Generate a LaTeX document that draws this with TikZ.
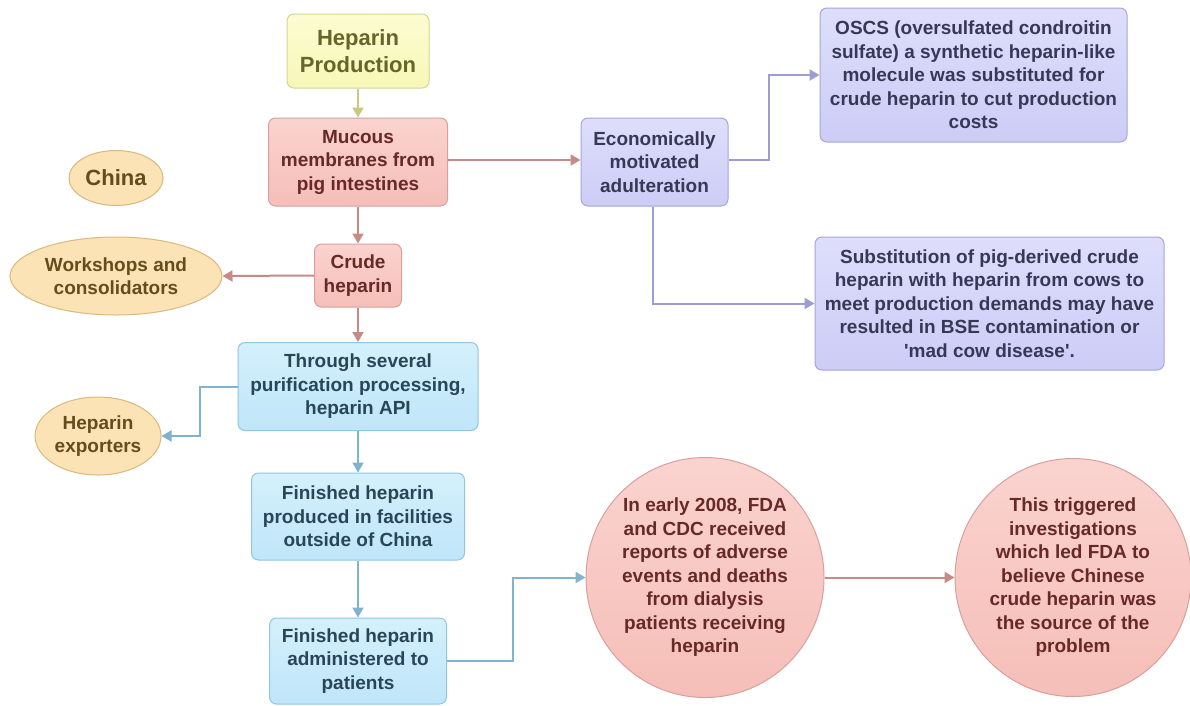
\documentclass[tikz,border=0pt]{standalone}
\usepackage{fontspec}
\setmainfont{Liberation Sans}
\usetikzlibrary{arrows.meta,shapes.geometric}
\definecolor{cYtop}{HTML}{FCFCD2}
\definecolor{cYbot}{HTML}{F7F7B8}
\definecolor{cYdraw}{HTML}{D6D696}
\definecolor{cYtext}{HTML}{66662A}
\definecolor{cYarr}{HTML}{C8C880}
\definecolor{cPtop}{HTML}{FAD3CF}
\definecolor{cPbot}{HTML}{F6BEB8}
\definecolor{cPdraw}{HTML}{D9A09B}
\definecolor{cPtext}{HTML}{662926}
\definecolor{cParr}{HTML}{C58C87}
\definecolor{cVtop}{HTML}{DEDEFB}
\definecolor{cVbot}{HTML}{CCCCF7}
\definecolor{cVdraw}{HTML}{A6A6DA}
\definecolor{cVtext}{HTML}{383856}
\definecolor{cVarr}{HTML}{9D9DD2}
\definecolor{cBtop}{HTML}{D4F0FC}
\definecolor{cBbot}{HTML}{BFE6F9}
\definecolor{cBdraw}{HTML}{90C6E2}
\definecolor{cBtext}{HTML}{294656}
\definecolor{cBarr}{HTML}{80B3D0}
\definecolor{cOfill}{HTML}{FBE3B6}
\definecolor{cOdraw}{HTML}{D9B97C}
\definecolor{cOtext}{HTML}{634D1C}
\begin{document}
\begin{tikzpicture}[x=1pt,y=-1pt,
  every node/.style={font=\bfseries\fontsize{19}{23.5}\selectfont, align=center, inner sep=0pt},
  rbox/.style={rectangle, rounded corners=7pt, line width=1pt},
  ybox/.style={rbox, top color=cYtop, bottom color=cYbot, draw=cYdraw, text=cYtext},
  pbox/.style={rbox, top color=cPtop, bottom color=cPbot, draw=cPdraw, text=cPtext},
  vbox/.style={rbox, top color=cVtop, bottom color=cVbot, draw=cVdraw, text=cVtext},
  bbox/.style={rbox, top color=cBtop, bottom color=cBbot, draw=cBdraw, text=cBtext},
  oell/.style={ellipse, fill=cOfill, draw=cOdraw, line width=1pt, text=cOtext},
  pcirc/.style={ellipse, top color=cPtop, bottom color=cPbot, draw=cPdraw, line width=1pt, text=cPtext, inner xsep=-20pt},
  arr/.style={line width=2pt, -{Triangle[length=10pt,width=11pt]}},
  yarr/.style={arr, draw=cYarr},
  parr/.style={arr, draw=cParr},
  varr/.style={arr, draw=cVarr},
  barr/.style={arr, draw=cBarr}
]
\useasboundingbox (0,0) rectangle (1190,705);
\fill[white] (0,0) rectangle (1190,705);

\node[ybox, minimum width=142pt, minimum height=74pt, font=\bfseries\fontsize{22}{27}\selectfont] (title) at (358,51) {Heparin\\Production};
\node[pbox, minimum width=179pt, minimum height=88pt] (mucous) at (358,162) {Mucous\\membranes from\\pig intestines};
\node[vbox, minimum width=147pt, minimum height=88pt] (econ) at (654.5,162) {Economically\\motivated\\adulteration};
\node[vbox, minimum width=307pt, minimum height=134pt] (oscs) at (973.5,75) {OSCS (oversulfated condroitin\\sulfate) a synthetic heparin-like\\molecule was substituted for\\crude heparin to cut production\\costs};
\node[vbox, minimum width=349pt, minimum height=133pt] (subst) at (989.5,303.5) {Substitution of pig-derived crude\\heparin with heparin from cows to\\meet production demands may have\\resulted in BSE contamination or\\\textquotesingle mad cow disease\textquotesingle.};
\node[oell, minimum width=94pt, minimum height=55pt, font=\bfseries\fontsize{22}{26}\selectfont] (china) at (116,178) {China};
\node[pbox, minimum width=87pt, minimum height=63pt] (crude) at (358,275.5) {Crude\\heparin};
\node[oell, minimum width=212pt, minimum height=78pt] (workshops) at (116,276) {Workshops and\\consolidators};
\node[bbox, minimum width=240pt, minimum height=88pt] (through) at (358,386.5) {Through several\\purification processing,\\heparin API};
\node[oell, minimum width=126pt, minimum height=78pt] (exporters) at (98,436) {Heparin\\exporters};
\node[bbox, minimum width=213pt, minimum height=87pt] (fin1) at (358,516.5) {Finished heparin\\produced in facilities\\outside of China};
\node[bbox, minimum width=177pt, minimum height=86pt] (fin2) at (358,661) {Finished heparin\\administered to\\patients};
\node[pcirc, minimum width=238pt, minimum height=240pt] (c1) at (705,577.5) {In early 2008, FDA\\and CDC received\\reports of adverse\\events and deaths\\from dialysis\\patients receiving\\heparin};
\node[pcirc, minimum width=236pt, minimum height=238pt] (c2) at (1073,577.5) {This triggered\\investigations\\which led FDA to\\believe Chinese\\crude heparin was\\the source of the\\problem};

\draw[yarr] (title.south) -- (mucous.north);
\draw[parr] (mucous.east) ++(0,-2) -- (econ.west |- 0,160);
\draw[varr] (econ.east) ++(0,-2) -- ++(40,0) |- (oscs.west);
\draw[varr] (econ.south) ++(-2,0) |- (subst.west);
\draw[parr] (mucous.south) -- (crude.north);
\draw[parr] (crude.west) -- (workshops.east);
\draw[parr] (crude.south) -- (through.north);
\draw[barr] (through.west) -- ++(-38,0) |- (exporters.east);
\draw[barr] (through.south) -- (fin1.north);
\draw[barr] (fin1.south) -- (fin2.north);
\draw[barr] (fin2.east) -- ++(66,0) |- (c1.west);
\draw[parr] (c1.east) -- (c2.west);
\end{tikzpicture}
\end{document}
